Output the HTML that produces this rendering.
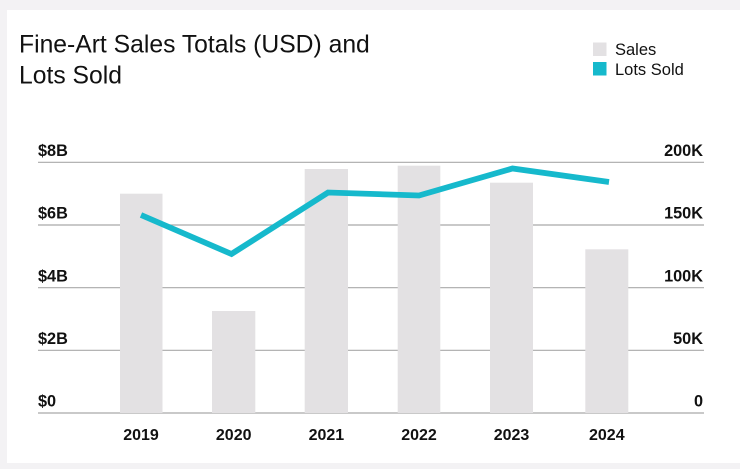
<!DOCTYPE html>
<html><head><meta charset="utf-8"><style>
html,body{margin:0;padding:0;background:#f3f2f4;}
body{width:740px;height:469px;overflow:hidden;position:relative;font-family:"Liberation Sans",Arial,sans-serif;}
svg{position:absolute;left:0;top:0;}
</style></head><body>
<svg width="740" height="469" viewBox="0 0 740 469" xmlns="http://www.w3.org/2000/svg">
<rect x="0" y="0" width="740" height="469" fill="#f3f2f4"/>
<rect x="7" y="10" width="733" height="453" fill="#ffffff"/>
<g font-family="Liberation Sans, Arial, sans-serif" fill="#111">
<text x="19" y="52.5" font-size="24.7">Fine-Art Sales Totals (USD) and</text>
<text x="19" y="83.5" font-size="24.7">Lots Sold</text>
</g>
<rect x="593" y="42.5" width="13.5" height="13.5" fill="#e3e1e3"/>
<rect x="593" y="62" width="13.5" height="13.5" fill="#16b9cc"/>
<g font-family="Liberation Sans, Arial, sans-serif" font-size="16.5" fill="#111">
<text x="615" y="55.2">Sales</text>
<text x="615" y="75">Lots Sold</text>
</g>
<g stroke="#a9a9a9" stroke-width="1.2">
<line x1="38" y1="162.3" x2="704" y2="162.3"/>
<line x1="38" y1="225" x2="704" y2="225"/>
<line x1="38" y1="287.7" x2="704" y2="287.7"/>
<line x1="38" y1="350.3" x2="704" y2="350.3"/>
<line x1="38" y1="413" x2="704" y2="413"/>
</g>
<g fill="#e3e1e3">
<rect x="120" y="193.7" width="42.5" height="219.3"/>
<rect x="212" y="311" width="43.3" height="102"/>
<rect x="304.7" y="169" width="43.3" height="244"/>
<rect x="397.7" y="165.7" width="42.6" height="247.3"/>
<rect x="490" y="182.7" width="43" height="230.3"/>
<rect x="585.3" y="249.3" width="43" height="163.7"/>
</g>
<polyline points="141,215 231.5,254 328,192.5 419,195.5 512.5,168.5 609,182" fill="none" stroke="#16b9cc" stroke-width="5.8" stroke-linejoin="miter"/>
<g font-family="Liberation Sans, Arial, sans-serif" font-size="16.3" font-weight="bold" fill="#111">
<text x="38" y="156">$8B</text>
<text x="38" y="218.7">$6B</text>
<text x="38" y="281.4">$4B</text>
<text x="38" y="344">$2B</text>
<text x="38" y="406.7">$0</text>
</g>
<g font-family="Liberation Sans, Arial, sans-serif" font-size="16.3" font-weight="bold" fill="#111" text-anchor="end">
<text x="703" y="156">200K</text>
<text x="703" y="218.7">150K</text>
<text x="703" y="281.4">100K</text>
<text x="703" y="344">50K</text>
<text x="703" y="406.7">0</text>
</g>
<g font-family="Liberation Sans, Arial, sans-serif" font-size="16" font-weight="bold" fill="#111" text-anchor="middle">
<text x="141" y="440">2019</text>
<text x="233.7" y="440">2020</text>
<text x="326.4" y="440">2021</text>
<text x="419" y="440">2022</text>
<text x="511.5" y="440">2023</text>
<text x="606.8" y="440">2024</text>
</g>
</svg>
</body></html>
